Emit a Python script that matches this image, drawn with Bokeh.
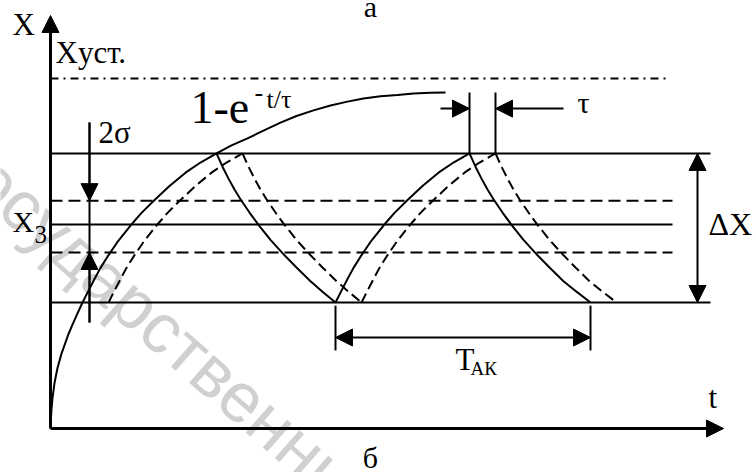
from bokeh.plotting import figure
from bokeh.models import Range1d, Arrow, NormalHead
from bokeh.core.properties import value
from bokeh.embed import file_html
from bokeh.resources import INLINE

# Levels of the controlled value, in units of the steady-state value X_уст.
X_UST = 1.0
X_HI = 0.786          # upper switching level
X_3 = 0.583           # set point X_з
X_LO = 0.36           # lower switching level
BAND = [0.651, 0.503] # X_з ± σ (insensitivity band 2σ)
TAU = 0.26            # delay τ

# Initial transient 1 - e^(-t/τ)
t_rise0 = [0.0, 0.003, 0.01, 0.02, 0.04, 0.07, 0.11, 0.18, 0.22, 0.27, 0.32,
           0.38, 0.44, 0.50, 0.57, 0.68, 0.80, 0.91, 1.03, 1.19, 1.35, 1.50,
           1.66, 1.81, 1.97, 2.13, 2.30, 2.46, 2.63, 2.80, 2.97, 3.13, 3.30,
           3.47, 3.63, 3.80, 3.95]
x_rise0 = [0.0, 0.024, 0.056, 0.087, 0.130, 0.173, 0.214, 0.270, 0.297, 0.329,
           0.360, 0.394, 0.427, 0.459, 0.491, 0.537, 0.580, 0.616, 0.650,
           0.693, 0.731, 0.760, 0.786, 0.809, 0.829, 0.851, 0.874, 0.893,
           0.909, 0.923, 0.934, 0.943, 0.949, 0.953, 0.957, 0.959, 0.960]

# Decay after the first switch-off
t_fall1 = [1.66, 1.72, 1.78, 1.84, 1.90, 1.99, 2.08, 2.20, 2.32, 2.46, 2.60,
           2.72, 2.85]
x_fall1 = [0.786, 0.748, 0.714, 0.683, 0.655, 0.617, 0.582, 0.539, 0.501,
           0.460, 0.421, 0.391, 0.360]

# Second rise
t_rise1 = [2.85, 2.91, 2.97, 3.03, 3.10, 3.21, 3.33, 3.44, 3.56, 3.72, 3.88,
           4.03, 4.19]
x_rise1 = [0.360, 0.394, 0.427, 0.459, 0.491, 0.537, 0.580, 0.616, 0.650,
           0.693, 0.731, 0.760, 0.786]

# Second decay
t_fall2 = [4.19, 4.25, 4.31, 4.37, 4.43, 4.52, 4.61, 4.73, 4.85, 4.99, 5.13,
           5.26, 5.40]
x_fall2 = [0.786, 0.748, 0.714, 0.683, 0.655, 0.617, 0.582, 0.539, 0.501,
           0.460, 0.421, 0.391, 0.360]

T_END = 6.60      # end of the switching-level lines
T_BAND_END = 6.22 # end of the set-point / band lines
T_AXIS = 6.73     # tip of the time axis
X_AXIS = 1.18     # tip of the X axis

SERIF = "Liberation Serif"
PX_PER_X = 350.0  # vertical scale of the frame, pixels per unit of X

p = figure(width=754, height=472,
           x_range=Range1d(-0.5, 7.04), y_range=Range1d(-0.1257, 1.2229),
           output_backend="svg", toolbar_location=None, min_border=0,
           x_axis_location=None, y_axis_location=None)
p.grid.visible = False
p.outline_line_color = None
p.background_fill_color = "white"
p.border_fill_color = "white"

# faint watermark
p.text(x=[-0.94], y=[0.805], text=["Государственный"], angle=-0.72,
       text_font=value("Liberation Sans"),
       text_font_size=value("70px"),
       text_color="#d0d0d0", text_align="left", text_baseline="middle")

# steady-state level
p.line([0, 6.20], [X_UST, X_UST], line_color="black", line_width=2,
       line_dash="8 5 2 5")

# switching levels
for lvl in (X_HI, X_LO):
    p.line([0, T_END], [lvl, lvl], line_color="black", line_width=2)
p.line([0, T_BAND_END], [X_3, X_3], line_color="black", line_width=2)
for lvl in BAND:
    p.line([0, T_BAND_END], [lvl, lvl], line_color="black", line_width=2,
           line_dash="12 6")

# controlled value without delay
for ts, xs in ((t_rise0, x_rise0), (t_fall1, x_fall1),
               (t_rise1, x_rise1), (t_fall2, x_fall2)):
    p.line(ts, xs, line_color="black", line_width=2)

# the same value delayed by τ
i0 = x_rise0.index(X_LO)
i1 = x_rise0.index(X_HI)
delayed = [(t_rise0[i0:i1 + 1], x_rise0[i0:i1 + 1]),
           (t_fall1, x_fall1), (t_rise1, x_rise1), (t_fall2, x_fall2)]
for ts, xs in delayed:
    p.line([t + TAU for t in ts], xs, line_color="black", line_width=2,
           line_dash="10 5")


def head():
    return NormalHead(size=17, fill_color="black", line_color="black",
                      line_width=1)


def arrow(x0, y0, x1, y1, both=False, width=2):
    p.add_layout(Arrow(start=head() if both else None, end=head(),
                       x_start=x0, y_start=y0, x_end=x1, y_end=y1,
                       line_color="black", line_width=width))


# axes
arrow(0, 0, 0, X_AXIS, width=3)
arrow(0, 0, T_AXIS, 0, width=3)

# 2σ dimension
t_sig = 0.39
p.line([t_sig, t_sig], [0.874, 0.303], line_color="black", line_width=2)
arrow(t_sig, 0.874, t_sig, BAND[0])
arrow(t_sig, 0.303, t_sig, BAND[1])

# τ dimension
t_pk = t_rise1[-1]
for tt in (t_pk, t_pk + TAU):
    p.line([tt, tt], [X_HI, 0.96], line_color="black", line_width=2)
arrow(3.90, 0.914, t_pk, 0.914)
arrow(5.13, 0.914, t_pk + TAU, 0.914)

# ΔX dimension
arrow(6.47, X_LO, 6.47, X_HI, both=True)

# T_АК dimension
for tt in (t_fall1[-1], t_fall2[-1]):
    p.line([tt, tt], [0.351, 0.223], line_color="black", line_width=2)
arrow(t_fall1[-1], 0.26, t_fall2[-1], 0.26, both=True)


def label(t, base, s, size, align="left"):
    # the text glyph sits about 0.36 em below the requested baseline,
    # so lift it by that amount
    y = base + 0.36 * size / PX_PER_X
    p.text(x=[t], y=[y], text=[s], text_font=value(SERIF),
           text_font_size=value(f"{size}px"), text_align=align,
           text_baseline="alphabetic", text_color="black")


label(-0.38, 1.123, "X", 31)
label(0.05, 1.043, "Xуст.", 31)
label(1.40, 0.871, "1-e", 46)
label(2.04, 0.934, "-", 26)
label(2.16, 0.914, "t/τ", 26)
label(0.48, 0.814, "2σ", 31)
label(-0.38, 0.560, "X", 30)
label(-0.16, 0.529, "3", 25)
label(5.27, 0.900, "τ", 30)
label(6.58, 0.551, "ΔX", 32)
label(4.05, 0.166, "T", 31)
label(4.20, 0.151, "АК", 19)
label(6.58, 0.057, "t", 31)
label(3.20, 1.176, "а", 30, align="center")
label(3.20, -0.114, "б", 30, align="center")

open("out.html", "w").write(file_html(p, INLINE))
